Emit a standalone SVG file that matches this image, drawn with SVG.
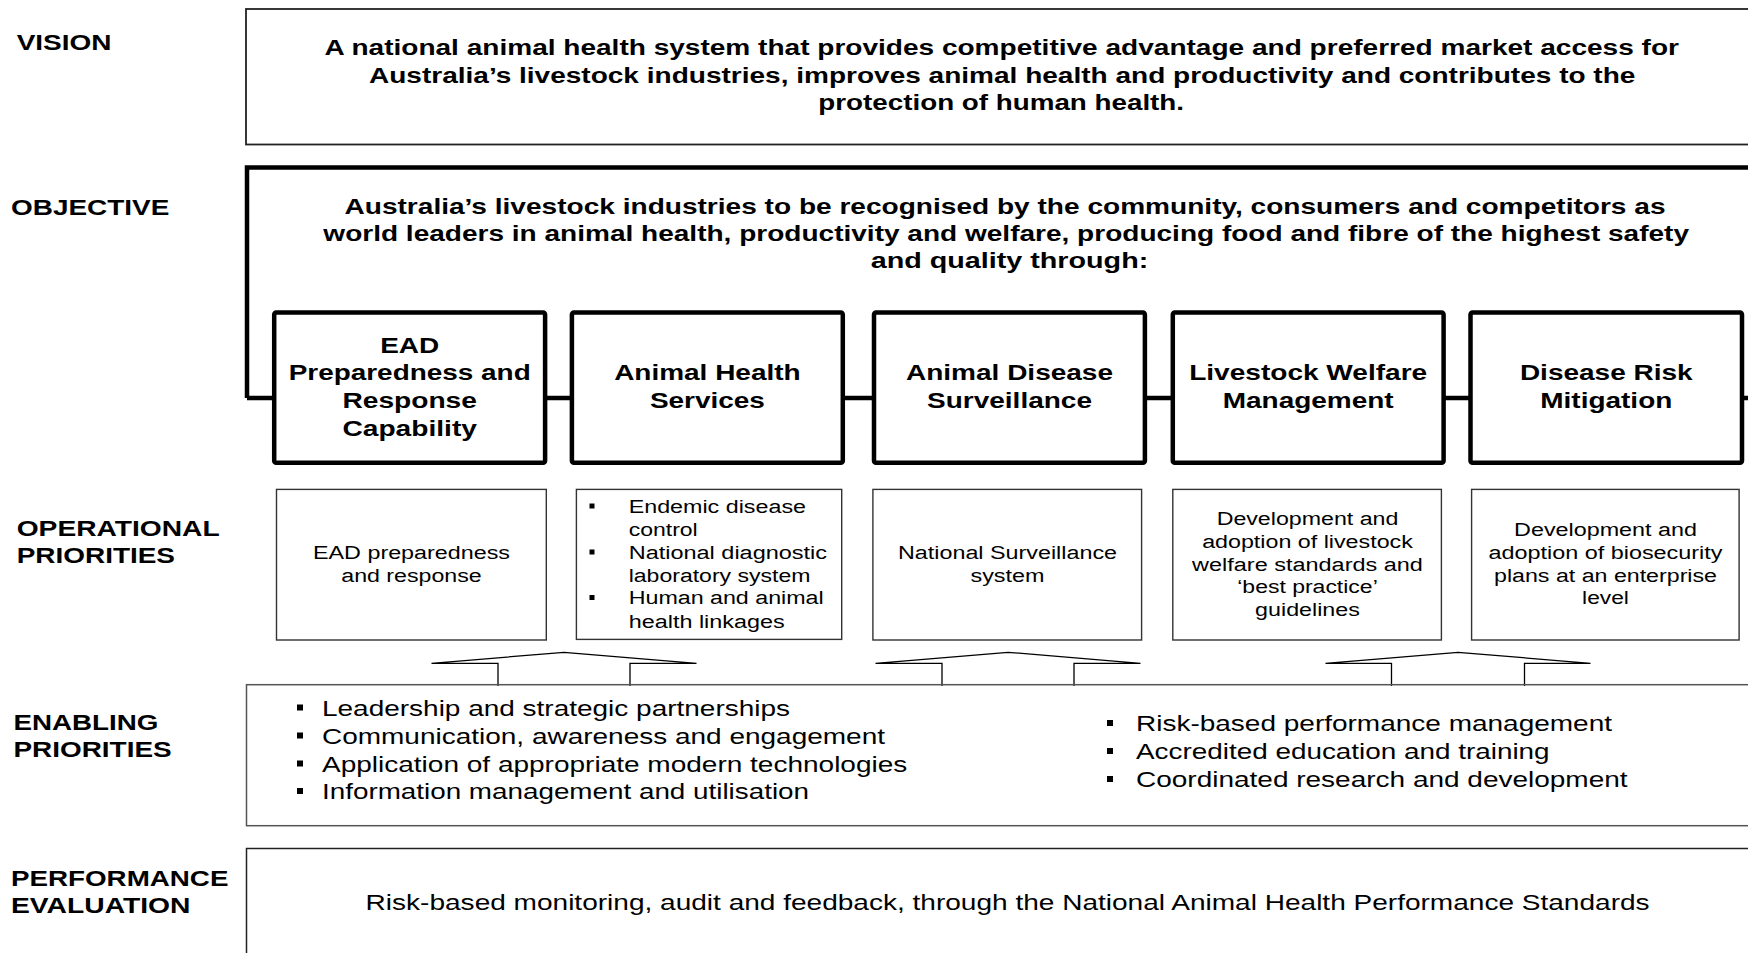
<svg xmlns="http://www.w3.org/2000/svg" width="1748" height="953" viewBox="0 0 1748 953">
<style>
text{font-family:"Liberation Sans",Arial,sans-serif;fill:#000}
.lbl{font-size:22px;font-weight:bold}
.big{font-size:22px;font-weight:bold}
.ttl{font-size:22px;font-weight:bold;text-anchor:middle}
.op{font-size:18px;text-anchor:middle}
.opl{font-size:18px}
.en{font-size:22px}
.thin{fill:#fff;stroke:#333;stroke-width:1.4}
.thick{fill:#fff;stroke:#000;stroke-width:4.5;stroke-linejoin:round}
.link{fill:none;stroke:#000;stroke-width:4.5}
.arrow{fill:#fff;stroke:#000;stroke-width:1.3;stroke-linejoin:miter}
.bul{fill:#000}
</style>
<rect width="1748" height="953" fill="#fff"/>

<g id="labels">
<text class="lbl" x="16.7" y="50" textLength="94.8" lengthAdjust="spacingAndGlyphs">VISION</text>
<text class="lbl" x="11" y="215" textLength="158.3" lengthAdjust="spacingAndGlyphs">OBJECTIVE</text>
<text class="lbl" x="16.7" y="536" textLength="203" lengthAdjust="spacingAndGlyphs">OPERATIONAL</text>
<text class="lbl" x="16.7" y="563" textLength="158.3" lengthAdjust="spacingAndGlyphs">PRIORITIES</text>
<text class="lbl" x="13.4" y="730" textLength="145" lengthAdjust="spacingAndGlyphs">ENABLING</text>
<text class="lbl" x="13.4" y="757" textLength="158.3" lengthAdjust="spacingAndGlyphs">PRIORITIES</text>
<text class="lbl" x="11" y="886" textLength="217.4" lengthAdjust="spacingAndGlyphs">PERFORMANCE</text>
<text class="lbl" x="11" y="913" textLength="179.5" lengthAdjust="spacingAndGlyphs">EVALUATION</text>
</g>

<g id="vision">
<rect x="246" y="9" width="1520" height="135.5" fill="#fff" stroke="#222" stroke-width="1.8"/>
<text class="big" text-anchor="middle" x="1001.7" y="55" textLength="1354.5" lengthAdjust="spacingAndGlyphs">A national animal health system that provides competitive advantage and preferred market access for</text>
<text class="big" text-anchor="middle" x="1002.2" y="82.5" textLength="1266.4" lengthAdjust="spacingAndGlyphs">Australia’s livestock industries, improves animal health and productivity and contributes to the</text>
<text class="big" text-anchor="middle" x="1001.2" y="110" textLength="365.7" lengthAdjust="spacingAndGlyphs">protection of human health.</text>
</g>

<g id="objective">
<path class="link" d="M247,398 V167.5 H1770"/>
<text class="big" text-anchor="middle" x="1005" y="214" textLength="1321" lengthAdjust="spacingAndGlyphs">Australia’s livestock industries to be recognised by the community, consumers and competitors as</text>
<text class="big" text-anchor="middle" x="1006.2" y="241" textLength="1365.7" lengthAdjust="spacingAndGlyphs">world leaders in animal health, productivity and welfare, producing food and fibre of the highest safety</text>
<text class="big" text-anchor="middle" x="1009.5" y="268" textLength="277.6" lengthAdjust="spacingAndGlyphs">and quality through:</text>
</g>

<g id="connectors">
<path class="link" d="M247,398 H275 M544,398 H573 M842,398 H875 M1144,398 H1174 M1442,398 H1471 M1741,398 H1770"/>
<path class="arrow" d="M498,686 V663.3 H431.5 L564,652.3 L696.5,663.3 H630 V686"/>
<path class="arrow" d="M942,686 V663.3 H875.5 L1008,652.3 L1140.5,663.3 H1074 V686"/>
<path class="arrow" d="M1391.5,686 V663.3 H1325.5 L1458,652.3 L1590.5,663.3 H1524.5 V686"/>
</g>

<g id="box-ead">
<rect class="thick" x="274.2" y="312.5" width="270.9" height="150.2" rx="2"/>
<text class="ttl" x="409.7" y="352.5" textLength="59" lengthAdjust="spacingAndGlyphs">EAD</text>
<text class="ttl" x="409.7" y="380" textLength="242" lengthAdjust="spacingAndGlyphs">Preparedness and</text>
<text class="ttl" x="409.7" y="408" textLength="134.5" lengthAdjust="spacingAndGlyphs">Response</text>
<text class="ttl" x="409.7" y="435.5" textLength="134.5" lengthAdjust="spacingAndGlyphs">Capability</text>
</g>

<g id="box-ahs">
<rect class="thick" x="571.9" y="312.5" width="270.9" height="150.2" rx="2"/>
<text class="ttl" x="707.4" y="380" textLength="186.5" lengthAdjust="spacingAndGlyphs">Animal Health</text>
<text class="ttl" x="707.4" y="408" textLength="115" lengthAdjust="spacingAndGlyphs">Services</text>
</g>

<g id="box-ads">
<rect class="thick" x="874" y="312.5" width="270.9" height="150.2" rx="2"/>
<text class="ttl" x="1009.5" y="380" textLength="207" lengthAdjust="spacingAndGlyphs">Animal Disease</text>
<text class="ttl" x="1009.5" y="408" textLength="165" lengthAdjust="spacingAndGlyphs">Surveillance</text>
</g>

<g id="box-lwm">
<rect class="thick" x="1172.8" y="312.5" width="270.8" height="150.2" rx="2"/>
<text class="ttl" x="1308.2" y="380" textLength="238" lengthAdjust="spacingAndGlyphs">Livestock Welfare</text>
<text class="ttl" x="1308.2" y="408" textLength="171" lengthAdjust="spacingAndGlyphs">Management</text>
</g>

<g id="box-drm">
<rect class="thick" x="1470.5" y="312.5" width="271.5" height="150.2" rx="2"/>
<text class="ttl" x="1606.3" y="380" textLength="172.8" lengthAdjust="spacingAndGlyphs">Disease Risk</text>
<text class="ttl" x="1606.3" y="408" textLength="132" lengthAdjust="spacingAndGlyphs">Mitigation</text>
</g>

<g id="op-ead">
<rect class="thin" x="276.5" y="489.4" width="269.8" height="150.6"/>
<text class="op" x="411.5" y="559" textLength="197" lengthAdjust="spacingAndGlyphs">EAD preparedness</text>
<text class="op" x="411.5" y="582" textLength="140.5" lengthAdjust="spacingAndGlyphs">and response</text>
</g>

<g id="op-ahs">
<rect class="thin" x="576.4" y="489.4" width="265.3" height="150"/>
<rect class="bul" x="589.5" y="503.5" width="5" height="5"/>
<rect class="bul" x="589.5" y="549.5" width="5" height="5"/>
<rect class="bul" x="589.5" y="595" width="5" height="5"/>
<text class="opl" x="628.7" y="512.8" textLength="177.3" lengthAdjust="spacingAndGlyphs">Endemic disease</text>
<text class="opl" x="628.7" y="536" textLength="69" lengthAdjust="spacingAndGlyphs">control</text>
<text class="opl" x="628.7" y="558.5" textLength="198.4" lengthAdjust="spacingAndGlyphs">National diagnostic</text>
<text class="opl" x="628.7" y="582" textLength="181.7" lengthAdjust="spacingAndGlyphs">laboratory system</text>
<text class="opl" x="628.7" y="604.2" textLength="195" lengthAdjust="spacingAndGlyphs">Human and animal</text>
<text class="opl" x="628.7" y="627.5" textLength="156" lengthAdjust="spacingAndGlyphs">health linkages</text>
</g>

<g id="op-ads">
<rect class="thin" x="872.9" y="489.4" width="268.7" height="150.6"/>
<text class="op" x="1007.5" y="559" textLength="219" lengthAdjust="spacingAndGlyphs">National Surveillance</text>
<text class="op" x="1007.5" y="582" textLength="74" lengthAdjust="spacingAndGlyphs">system</text>
</g>

<g id="op-lwm">
<rect class="thin" x="1172.8" y="489.4" width="268.6" height="150.6"/>
<text class="op" x="1307.5" y="525" textLength="181.7" lengthAdjust="spacingAndGlyphs">Development and</text>
<text class="op" x="1307.5" y="548.3" textLength="210.7" lengthAdjust="spacingAndGlyphs">adoption of livestock</text>
<text class="op" x="1307.5" y="570.7" textLength="230.8" lengthAdjust="spacingAndGlyphs">welfare standards and</text>
<text class="op" x="1307.5" y="593" textLength="140.5" lengthAdjust="spacingAndGlyphs">‘best practice’</text>
<text class="op" x="1307.5" y="616.3" textLength="104.8" lengthAdjust="spacingAndGlyphs">guidelines</text>
</g>

<g id="op-drm">
<rect class="thin" x="1471.6" y="489.4" width="267.5" height="150.6"/>
<text class="op" x="1605.5" y="536" textLength="182.8" lengthAdjust="spacingAndGlyphs">Development and</text>
<text class="op" x="1605.5" y="558.5" textLength="234" lengthAdjust="spacingAndGlyphs">adoption of biosecurity</text>
<text class="op" x="1605.5" y="582" textLength="223" lengthAdjust="spacingAndGlyphs">plans at an enterprise</text>
<text class="op" x="1605.5" y="604.2" textLength="46.8" lengthAdjust="spacingAndGlyphs">level</text>
</g>

<g id="enabling">
<rect x="246.5" y="684.7" width="1520" height="141" fill="none" stroke="#555" stroke-width="1.5"/>
<rect class="bul" x="297" y="704.5" width="6" height="6"/>
<rect class="bul" x="297" y="732.5" width="6" height="6"/>
<rect class="bul" x="297" y="760.5" width="6" height="6"/>
<rect class="bul" x="297" y="788" width="6" height="6"/>
<text class="en" x="322" y="716" textLength="468" lengthAdjust="spacingAndGlyphs">Leadership and strategic partnerships</text>
<text class="en" x="322" y="744" textLength="563" lengthAdjust="spacingAndGlyphs">Communication, awareness and engagement</text>
<text class="en" x="322" y="771.5" textLength="585.3" lengthAdjust="spacingAndGlyphs">Application of appropriate modern technologies</text>
<text class="en" x="322" y="799.3" textLength="487" lengthAdjust="spacingAndGlyphs">Information management and utilisation</text>
<rect class="bul" x="1107" y="720" width="6" height="6"/>
<rect class="bul" x="1107" y="748" width="6" height="6"/>
<rect class="bul" x="1107" y="776" width="6" height="6"/>
<text class="en" x="1136" y="731.3" textLength="476" lengthAdjust="spacingAndGlyphs">Risk-based performance management</text>
<text class="en" x="1136" y="759.2" textLength="413.6" lengthAdjust="spacingAndGlyphs">Accredited education and training</text>
<text class="en" x="1136" y="787" textLength="491.6" lengthAdjust="spacingAndGlyphs">Coordinated research and development</text>
</g>

<g id="performance">
<rect x="246.5" y="848.5" width="1520" height="130" fill="none" stroke="#222" stroke-width="1.5"/>
<text class="en" x="365.6" y="909.7" textLength="1284" lengthAdjust="spacingAndGlyphs">Risk-based monitoring, audit and feedback, through the National Animal Health Performance Standards</text>
</g>
</svg>
